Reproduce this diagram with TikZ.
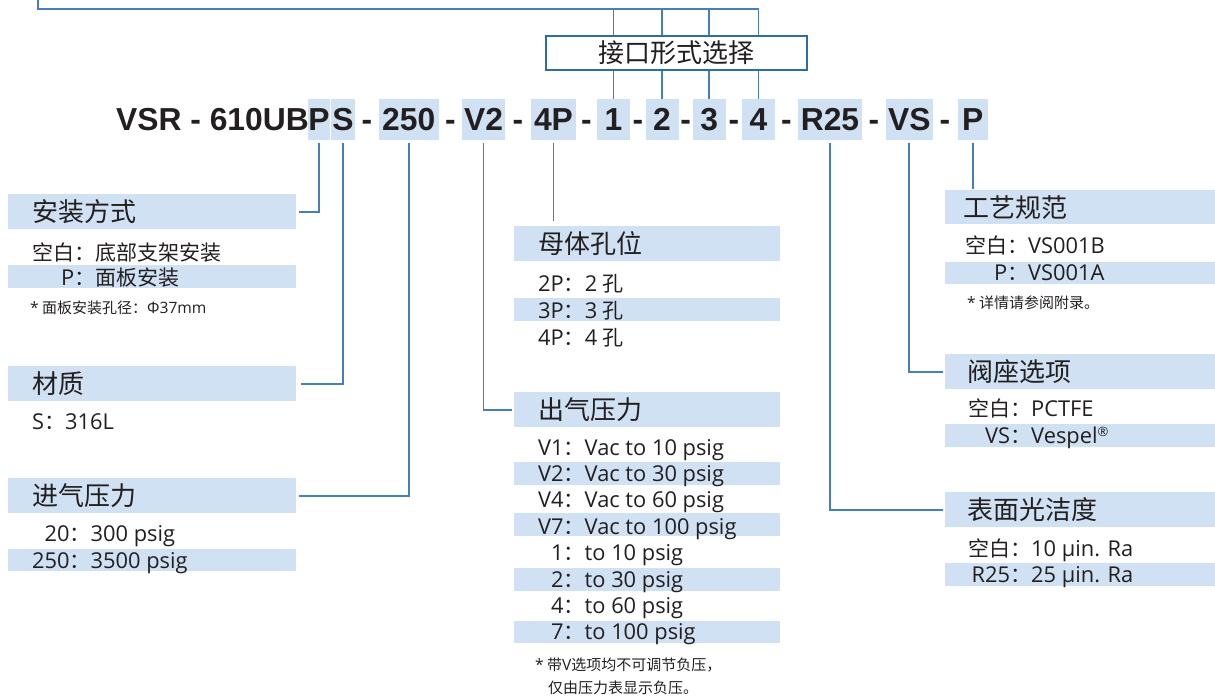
\documentclass[tikz,border=0pt]{standalone}
\usepackage{fontspec}
\setmainfont{Noto Sans CJK SC}
\newfontfamily\codefont{Liberation Sans}
\newfontfamily\latfont[Scale=1.04]{Open Sans}
\newcommand\lat[1]{{\latfont #1}}
\definecolor{lb}{RGB}{207,225,242}
\definecolor{ln}{RGB}{70,128,186}
\definecolor{bx}{RGB}{46,108,168}
\definecolor{tx}{RGB}{35,31,32}
\begin{document}
\begin{tikzpicture}[x=1pt,y=-1pt,
  conn/.style={draw=ln, line width=1.6pt},
  hdrbox/.style={fill=lb, draw=none, inner sep=0pt, minimum height=35pt, anchor=north west},
  rowbox/.style={fill=lb, draw=none, inner sep=0pt, minimum height=23pt, anchor=north west},
  hdrtext/.style={anchor=base west, inner sep=0pt, text=tx, font=\fontsize{26pt}{30pt}\selectfont},
  rowtext/.style={anchor=base west, inner sep=0pt, text=tx, font=\fontsize{21pt}{24pt}\selectfont},
  notetext/.style={anchor=base west, inner sep=0pt, text=tx, font=\fontsize{15pt}{17pt}\selectfont},
  codetext/.style={inner sep=0pt, text=tx, text height=22.5pt, text depth=0pt, font=\codefont\bfseries\fontsize{31.8pt}{32pt}\selectfont},
  codebox/.style={codetext, fill=lb, minimum height=41pt}
]
\useasboundingbox (0,0) rectangle (1215,698);

% ---------- code line ----------
\node[codetext, anchor=east] (cA) at (309,119.5) {VSR - 610UB};
\node[codebox, minimum width=20pt]   (cP)   at (319,119.5)   {P};
\node[codebox, minimum width=24pt]   (cS)   at (343,119.5)   {S};
\node[codetext] (d1) at (367,119.5) {-};
\node[codebox, minimum width=60.5pt] (c250) at (408.75,119.5) {250};
\node[codetext] (d2) at (450.5,119.5) {-};
\node[codebox, minimum width=43pt]   (cV2)  at (483.5,119.5) {V2};
\node[codetext] (d3) at (518,119.5) {-};
\node[codebox, minimum width=45pt]   (c4P)  at (553.5,119.5) {4P};
\node[codetext] (d4) at (586.5,119.5) {-};
\node[codebox, minimum width=33pt]   (c1)   at (613.5,119.5) {1};
\node[codetext] (d5) at (638,119.5) {-};
\node[codebox, minimum width=33pt]   (c2)   at (662,119.5)   {2};
\node[codetext] (d6) at (685.6,119.5) {-};
\node[codebox, minimum width=33pt]   (c3)   at (709.2,119.5) {3};
\node[codetext] (d7) at (734,119.5) {-};
\node[codebox, minimum width=33pt]   (c4)   at (758.5,119.5) {4};
\node[codetext] (d8) at (786.5,119.5) {-};
\node[codebox, minimum width=64pt]   (cR)   at (830,119.5)   {R25};
\node[codetext] (d9) at (874,119.5) {-};
\node[codebox, minimum width=46.5pt] (cVS)  at (909.25,119.5) {VS};
\node[codetext] (d10) at (945,119.5) {-};
\node[codebox, minimum width=29.5pt] (cP2)  at (972.75,119.5) {P};

% ---------- interface box ----------
\node[draw=bx, line width=2.5pt, fill=white, minimum width=261pt, minimum height=34pt, inner sep=0pt,
      text=tx, font=\fontsize{26pt}{30pt}\selectfont] (kx) at (676.5,53) {接口形式选择};
\coordinate (tl0) at (38,-2);
\coordinate (tl) at (38,9);
\draw[conn] (tl0) -- (tl) -- (tl -| c4.north);
\foreach \c in {c1,c2,c3,c4}{
  \draw[conn] (\c.north |- tl) -- (\c.north |- kx.north);
  \draw[conn] (\c.north |- kx.south) -- (\c.north);
}

% ---------- left group ----------
\node[hdrbox, minimum width=288pt] (h1) at (8,194) {};
\node[hdrtext] (h1t) at (32,221.5) {安装方式};
\node[rowtext] (r11) at (32,260) {空白：底部支架安装};
\node[rowbox, minimum width=288pt] (b12) at (8,265) {};
\node[rowtext] (r12) at (32,285) {\makebox[2em][r]{\lat{P}}：面板安装};
\node[notetext] (n1) at (30,313.5) {\lat{*} 面板安装孔径：\lat{Φ37mm}};

\node[hdrbox, minimum width=288pt] (h2) at (8,366) {};
\node[hdrtext] (h2t) at (32,393.5) {材质};
\node[rowtext] (r21) at (32,429) {\lat{S}：\lat{316L}};

\node[hdrbox, minimum width=288pt] (h3) at (8,478) {};
\node[hdrtext] (h3t) at (32,505.5) {进气压力};
\node[rowtext] (r31) at (32,541) {\lat{\phantom{2}20}：\lat{300 psig}};
\node[rowbox, minimum width=288pt, minimum height=22pt] (b32) at (8,549) {};
\node[rowtext] (r32) at (32,568) {\lat{250}：\lat{3500 psig}};

% ---------- middle group ----------
\node[hdrbox, minimum width=266pt] (h4) at (514,226) {};
\node[hdrtext] (h4t) at (538,253.5) {母体孔位};
\node[rowtext] (r41) at (538,291) {\lat{2P}：\lat{2} 孔};
\node[rowbox, minimum width=266pt] (b42) at (514,298) {};
\node[rowtext] (r42) at (538,318) {\lat{3P}：\lat{3} 孔};
\node[rowtext] (r43) at (538,345) {\lat{4P}：\lat{4} 孔};

\node[hdrbox, minimum width=266pt] (h5) at (514,392) {};
\node[hdrtext] (h5t) at (538,419.5) {出气压力};
\node[rowtext] (r51) at (538,455) {\lat{V1}：\lat{Vac to 10 psig}};
\node[rowbox, minimum width=266pt] (b52) at (514,462) {};
\node[rowtext] (r52) at (538,481.4) {\lat{V2}：\lat{Vac to 30 psig}};
\node[rowtext] (r53) at (538,507.8) {\lat{V4}：\lat{Vac to 60 psig}};
\node[rowbox, minimum width=266pt] (b54) at (514,513) {};
\node[rowtext] (r54) at (538,534.2) {\lat{V7}：\lat{Vac to 100 psig}};
\node[rowtext] (r55) at (538,560.6) {\lat{\phantom{V}1}：\lat{to 10 psig}};
\node[rowbox, minimum width=266pt] (b56) at (514,568) {};
\node[rowtext] (r56) at (538,587) {\lat{\phantom{V}2}：\lat{to 30 psig}};
\node[rowtext] (r57) at (538,613.4) {\lat{\phantom{V}4}：\lat{to 60 psig}};
\node[rowbox, minimum width=266pt, minimum height=22pt] (b58) at (514,621) {};
\node[rowtext] (r58) at (538,639.8) {\lat{\phantom{V}7}：\lat{to 100 psig}};
\node[notetext] (n2) at (535,670.5) {\lat{*} 带\lat{V}选项均不可调节负压，};
\node[notetext] (n3) at (548,693.5) {仅由压力表显示负压。};

% ---------- right group ----------
\node[hdrbox, minimum width=270pt, minimum height=34pt] (h6) at (945,190) {};
\node[hdrtext] (h6t) at (963,217) {工艺规范};
\node[rowtext] (r61) at (965,253) {空白：\lat{VS001B}};
\node[rowbox, minimum width=270pt, minimum height=22pt] (b62) at (945,262) {};
\node[rowtext] (r62) at (965,280.5) {\makebox[2em][r]{\lat{P}}：\lat{VS001A}};
\node[notetext] (n4) at (967,308.5) {\lat{*} 详情请参阅附录。};

\node[hdrbox, minimum width=270pt] (h7) at (945,354) {};
\node[hdrtext] (h7t) at (967,381.5) {阀座选项};
\node[rowtext] (r71) at (968,416) {空白：\lat{PCTFE}};
\node[rowbox, minimum width=270pt] (b72) at (945,424) {};
\node[rowtext] (r72) at (968,443.5) {\makebox[2em][r]{\lat{VS}}：\lat{Vespel\raisebox{0.3em}{\fontsize{12.5pt}{13pt}\selectfont ®}}};

\node[hdrbox, minimum width=270pt] (h8) at (945,492) {};
\node[hdrtext] (h8t) at (967,519.5) {表面光洁度};
\node[rowtext] (r81) at (968,556) {空白：\lat{10 µin. Ra}};
\node[rowbox, minimum width=270pt] (b82) at (945,563) {};
\node[rowtext] (r82) at (968,582.5) {\makebox[2em][r]{\lat{R25}}：\lat{25 µin. Ra}};

% ---------- connectors ----------
\draw[conn] ([yshift=-3pt]cP.south) |- ([xshift=3pt]h1.east);
\draw[conn] ([yshift=-3pt]cS.south) |- ([xshift=5pt]h2.east);
\draw[conn] ([yshift=-3pt]c250.south) |- ([xshift=3pt]h3.east);
\draw[conn] ([yshift=-3pt]cV2.south) |- ([xshift=-2pt]h5.west);
\draw[conn] ([yshift=-3pt]c4P.south) -- ([yshift=5pt]c4P.south |- h4.north);
\draw[conn] ([yshift=-3pt]cR.south) |- ([xshift=-2pt]h8.west);
\draw[conn] ([yshift=-3pt]cVS.south) |- ([xshift=-2pt]h7.west);
\draw[conn] ([yshift=-3pt]cP2.south) -- ([yshift=1pt]cP2.south |- h6.north);
\end{tikzpicture}
\end{document}
